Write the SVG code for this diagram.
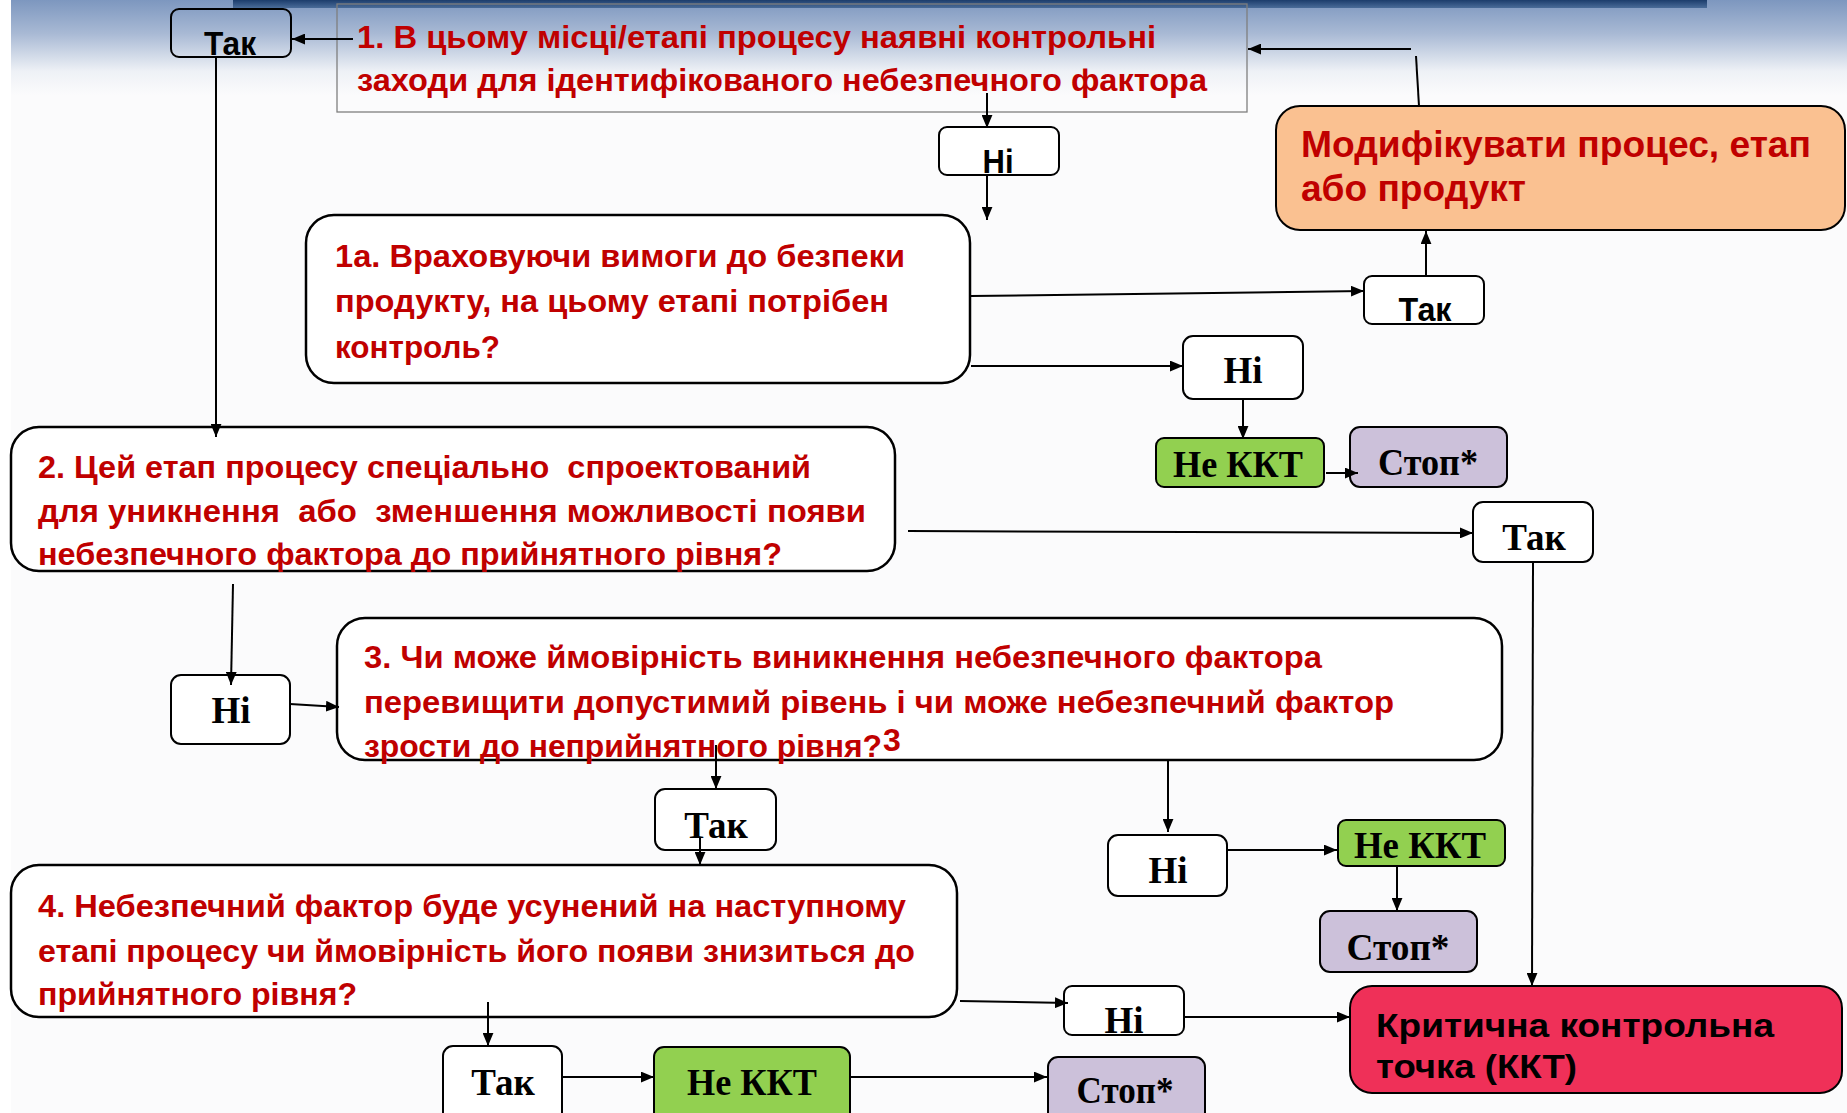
<svg xmlns="http://www.w3.org/2000/svg" width="1847" height="1113" viewBox="0 0 1847 1113">
<defs>
<linearGradient id="topgrad" x1="0" y1="0" x2="0" y2="1">
<stop offset="0" stop-color="#7d97bf"/>
<stop offset="0.35" stop-color="#a8b9d4"/>
<stop offset="0.75" stop-color="#eef1f6"/>
<stop offset="1" stop-color="#fbfbfc"/>
</linearGradient>
<linearGradient id="band" x1="0" y1="0" x2="0" y2="1">
<stop offset="0" stop-color="#1c3d6c"/>
<stop offset="1" stop-color="#4a6c99"/>
</linearGradient>
<marker id="arr" viewBox="0 0 12 10" refX="12" refY="5" markerWidth="13" markerHeight="11" markerUnits="userSpaceOnUse" orient="auto">
<path d="M0,0 L12,5 L0,10 z" fill="#000"/>
</marker>
<style>
.box{fill:#ffffff;stroke:#000;stroke-width:2}
.qbox{fill:#ffffff;stroke:#000;stroke-width:2.5}
.q{font-family:"Liberation Sans",Arial,sans-serif;font-weight:bold;fill:#c00000;font-size:32px;white-space:pre}
.ls{font-family:"Liberation Sans",Arial,sans-serif;font-weight:bold;fill:#000;font-size:33px;text-anchor:middle}
.lt{font-family:"Liberation Serif","Times New Roman",serif;font-weight:bold;fill:#000;font-size:37px;text-anchor:middle}
.green{fill:#92d050;stroke:#000;stroke-width:2}
.stop{fill:#ccc1da;stroke:#000;stroke-width:2}
#connectors line{stroke:#000;stroke-width:2}
#connectors line.a{marker-end:url(#arr)}
</style>
</defs>

<rect x="0" y="0" width="1847" height="1113" fill="#ffffff"/>
<rect x="11" y="0" width="1836" height="1113" fill="#fbfbfc"/>
<rect x="11" y="0" width="1836" height="95" fill="url(#topgrad)"/>
<rect x="233" y="0" width="1474" height="8" fill="url(#band)"/>

<g id="node-tak-top">
<rect x="171" y="9" width="120" height="48" rx="8" fill="none" stroke="#000" stroke-width="2"/>
<text class="ls" x="230" y="55" textLength="52" lengthAdjust="spacingAndGlyphs">Так</text>
</g>

<g id="node-q1">
<rect x="337" y="4" width="910" height="108" fill="none" stroke="#7f7f7f" stroke-width="1.3"/>
<text class="q" x="357" y="48" textLength="799" lengthAdjust="spacingAndGlyphs">1. В цьому місці/етапі процесу наявні контрольні</text>
<text class="q" x="357" y="91" textLength="850" lengthAdjust="spacingAndGlyphs">заходи для ідентифікованого небезпечного фактора</text>
</g>

<g id="node-ni-1">
<rect class="box" x="939" y="127" width="120" height="48" rx="8"/>
<text class="ls" x="998" y="173" textLength="31" lengthAdjust="spacingAndGlyphs">Ні</text>
</g>

<g id="node-q1a">
<rect class="qbox" x="306" y="215" width="664" height="168" rx="28"/>
<text class="q" x="335" y="267" textLength="570" lengthAdjust="spacingAndGlyphs">1а. Враховуючи вимоги до безпеки</text>
<text class="q" x="335" y="312" textLength="554" lengthAdjust="spacingAndGlyphs">продукту, на цьому етапі потрібен</text>
<text class="q" x="335" y="358" textLength="165" lengthAdjust="spacingAndGlyphs">контроль?</text>
</g>

<g id="node-tak-1a">
<rect class="box" x="1364" y="276" width="120" height="48" rx="8"/>
<text class="ls" x="1425" y="321" textLength="53" lengthAdjust="spacingAndGlyphs">Так</text>
</g>

<g id="node-modify">
<rect x="1276" y="106" width="569" height="124" rx="24" fill="#fac191" stroke="#000" stroke-width="2"/>
<text x="1301" y="157" font-family="Liberation Sans, Arial, sans-serif" font-weight="bold" font-size="36" fill="#c00000" textLength="510" lengthAdjust="spacingAndGlyphs">Модифікувати процес, етап</text>
<text x="1301" y="201" font-family="Liberation Sans, Arial, sans-serif" font-weight="bold" font-size="36" fill="#c00000" textLength="225" lengthAdjust="spacingAndGlyphs">або продукт</text>
</g>

<g id="node-ni-1a">
<rect class="box" x="1183" y="336" width="120" height="63" rx="10"/>
<text class="lt" x="1243" y="383">Ні</text>
</g>

<g id="node-nekkt-1">
<rect class="green" x="1156" y="438" width="168" height="49" rx="8"/>
<text class="lt" x="1238" y="477" textLength="130" lengthAdjust="spacingAndGlyphs">Не ККТ</text>
</g>

<g id="node-stop-1">
<rect class="stop" x="1350" y="427" width="157" height="60" rx="10"/>
<text class="lt" x="1428" y="475" textLength="100" lengthAdjust="spacingAndGlyphs">Стоп*</text>
</g>

<g id="node-q2">
<rect class="qbox" x="11" y="427" width="884" height="144" rx="28"/>
<text class="q" x="38" y="478" textLength="773" lengthAdjust="spacingAndGlyphs">2. Цей етап процесу спеціально  спроектований</text>
<text class="q" x="38" y="522" textLength="828" lengthAdjust="spacingAndGlyphs">для уникнення  або  зменшення можливості появи</text>
<text class="q" x="38" y="565" textLength="744" lengthAdjust="spacingAndGlyphs">небезпечного фактора до прийнятного рівня?</text>
</g>

<g id="node-tak-2">
<rect class="box" x="1473" y="502" width="120" height="60" rx="10"/>
<text class="lt" x="1534" y="550">Так</text>
</g>

<g id="node-ni-2">
<rect class="box" x="171" y="675" width="119" height="69" rx="10"/>
<text class="lt" x="231" y="723">Ні</text>
</g>

<g id="node-q3">
<rect class="qbox" x="337" y="618" width="1165" height="142" rx="28"/>
<text class="q" x="364" y="668" textLength="958" lengthAdjust="spacingAndGlyphs">3. Чи може ймовірність виникнення небезпечного фактора</text>
<text class="q" x="364" y="713" textLength="1030" lengthAdjust="spacingAndGlyphs">перевищити допустимий рівень і чи може небезпечний фактор</text>
<text class="q" x="364" y="757" textLength="518" lengthAdjust="spacingAndGlyphs">зрости до неприйнятного рівня?</text>
<text class="q" x="883" y="751" font-size="18">3</text>
</g>

<g id="node-tak-3">
<rect class="box" x="655" y="789" width="121" height="61" rx="10"/>
<text class="lt" x="716" y="838">Так</text>
</g>

<g id="node-ni-3">
<rect class="box" x="1108" y="835" width="119" height="61" rx="10"/>
<text class="lt" x="1168" y="883">Ні</text>
</g>

<g id="node-nekkt-2">
<rect class="green" x="1338" y="820" width="167" height="46" rx="8"/>
<text class="lt" x="1420" y="858" textLength="132" lengthAdjust="spacingAndGlyphs">Не ККТ</text>
</g>

<g id="node-stop-2">
<rect class="stop" x="1320" y="911" width="157" height="61" rx="10"/>
<text class="lt" x="1398" y="960" textLength="103" lengthAdjust="spacingAndGlyphs">Стоп*</text>
</g>

<g id="node-q4">
<rect class="qbox" x="11" y="865" width="946" height="152" rx="28"/>
<text class="q" x="38" y="917" textLength="868" lengthAdjust="spacingAndGlyphs">4. Небезпечний фактор буде усунений на наступному</text>
<text class="q" x="38" y="962" textLength="877" lengthAdjust="spacingAndGlyphs">етапі процесу чи ймовірність його появи знизиться до</text>
<text class="q" x="38" y="1005" textLength="319" lengthAdjust="spacingAndGlyphs">прийнятного рівня?</text>
</g>

<g id="node-ni-4">
<rect class="box" x="1064" y="986" width="120" height="49" rx="8"/>
<text class="lt" x="1124" y="1033">Ні</text>
</g>

<g id="node-kkt">
<rect x="1350" y="986" width="492" height="107" rx="22" fill="#ef3058" stroke="#000" stroke-width="2"/>
<text x="1376" y="1037" font-family="Liberation Sans, Arial, sans-serif" font-weight="bold" font-size="34" fill="#000" textLength="398" lengthAdjust="spacingAndGlyphs">Критична контрольна</text>
<text x="1376" y="1078" font-family="Liberation Sans, Arial, sans-serif" font-weight="bold" font-size="34" fill="#000" textLength="201" lengthAdjust="spacingAndGlyphs">точка (ККТ)</text>
</g>

<g id="node-tak-4">
<rect class="box" x="443" y="1046" width="119" height="90" rx="10"/>
<text class="lt" x="503" y="1095">Так</text>
</g>

<g id="node-nekkt-3">
<rect class="green" x="654" y="1047" width="196" height="90" rx="10"/>
<text class="lt" x="752" y="1095" textLength="130" lengthAdjust="spacingAndGlyphs">Не ККТ</text>
</g>

<g id="node-stop-3">
<rect class="stop" x="1048" y="1057" width="157" height="80" rx="10"/>
<text class="lt" x="1125" y="1103" textLength="97" lengthAdjust="spacingAndGlyphs">Стоп*</text>
</g>

<g id="connectors">
<line class="a" x1="353" y1="39" x2="292" y2="39"/>
<line class="a" x1="987" y1="93" x2="987" y2="128"/>
<line class="a" x1="987" y1="175" x2="987" y2="220"/>
<line class="a" x1="971" y1="296" x2="1364" y2="291"/>
<line class="a" x1="1426" y1="276" x2="1426" y2="231"/>
<line x1="1419" y1="106" x2="1416" y2="56"/>
<line class="a" x1="1411" y1="49" x2="1248" y2="49"/>
<line class="a" x1="971" y1="366" x2="1183" y2="366"/>
<line class="a" x1="1243" y1="399" x2="1243" y2="439"/>
<line class="a" x1="1326" y1="473" x2="1358" y2="473"/>
<line class="a" x1="216" y1="57" x2="216" y2="437"/>
<line class="a" x1="908" y1="531" x2="1473" y2="533"/>
<line class="a" x1="1533" y1="562" x2="1532" y2="986"/>
<line class="a" x1="233" y1="584" x2="231" y2="685"/>
<line class="a" x1="290" y1="704" x2="339" y2="707"/>
<line class="a" x1="716" y1="745" x2="716" y2="789"/>
<line class="a" x1="700" y1="838" x2="700" y2="865"/>
<line class="a" x1="1168" y1="760" x2="1168" y2="832"/>
<line class="a" x1="1227" y1="850" x2="1337" y2="850"/>
<line class="a" x1="1397" y1="866" x2="1397" y2="911"/>
<line class="a" x1="960" y1="1001" x2="1068" y2="1003"/>
<line class="a" x1="1184" y1="1017" x2="1350" y2="1017"/>
<line class="a" x1="488" y1="1002" x2="488" y2="1046"/>
<line class="a" x1="562" y1="1077" x2="654" y2="1077"/>
<line class="a" x1="850" y1="1077" x2="1047" y2="1077"/>
</g>
</svg>
